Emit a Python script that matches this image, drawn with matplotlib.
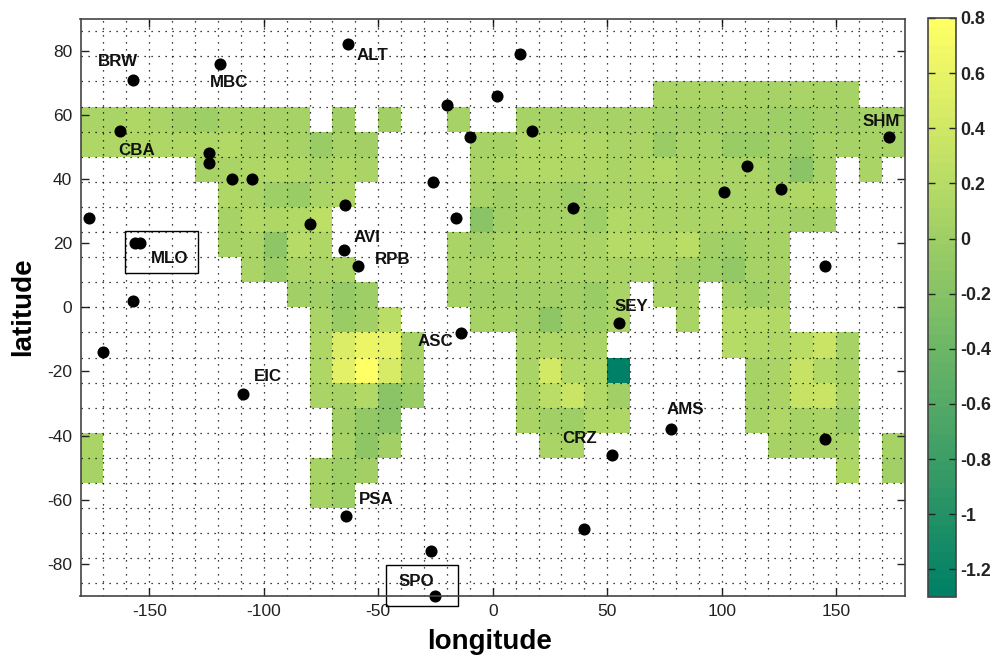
import numpy as np
import matplotlib
matplotlib.use("Agg")
import matplotlib.pyplot as plt
from matplotlib.patches import Rectangle

plt.rcParams['font.family'] = ['Liberation Sans', 'DejaVu Sans']
plt.rcParams['axes.unicode_minus'] = False

# each row: list of (western longitude of first cell, values of successive 10-degree cells)
row_p8 = [(70, [.09, .09, .09, .09, .07, .07, .09, .07, .07])]
row_p7 = [(-180, [.1, .1, .12, .1, .02, 0, .07, .07, .07, .07]), (-70, [.04]), (-50, [.02]), (-20, [.07]),
          (10, [.07, .07, .07, .07, .07, .07, .02, .02, .02, .02, .02, -.01, -.01, .02, .04, .07, .07])]
row_p6 = [(-180, [.12, .12, .12, .12, .12, .12, .17, .09, .09, .07, -.03, .05, .04]),
          (-10, [.07, .07, .17, .13, .17, .12, .1, .1, -.05, .05, .05, -.05, -.05, .02, -.03, .05, .07, .07, .07])]
row_p5 = [(-130, [.07, .09, .12, .15, .12, .07, .12, .1]),
          (-10, [.1, .12, .17, .17, .12, .12, .1, .12, .15, .1, .1, .1, .1, -.01, -.18, .05]), (160, [.1])]
row_p4 = [(-120, [.14, .1, -.01, -.05, .1, .12]),
          (-10, [.07, .04, .05, .07, -.01, .07, .1, .11, .09, .1, .1, .1, .1, .1, .12, .12])]
row_p3 = [(-120, [.07, .17, .12, .17, .27]),
          (-10, [-.18, .04, .07, .07, .05, -.01, .15, .12, .1, .1, .1, .1, .1, .07, .02, .02])]
row_p2 = [(-120, [.07, .1, -.13, .19, .12]),
          (-20, [.1, .04, .1, .1, .1, .1, .1, .19, .19, .17, .22, .02, 0, .07, .07])]
row_p1 = [(-110, [.1, -.05, .09, .09, .1]),
          (-20, [.1, .1, .1, .1, .1, .1, .1, .1, .1, .1, .02, 0, -.1, .07, .07])]
row_p0 = [(-90, [.02, .04, -.08, .01]), (-20, [.07, .02, .04, .02, .04, .02, -.03, .1]),
          (70, [.1, .1]), (100, [.05, 0, .06])]
row_m1 = [(-80, [.09, -.05, .04, .22]), (-10, [.07, .07, .04, -.13, .02, -.01, .1]), (80, [.09]),
          (100, [.19, .19, .17])]
row_m2 = [(-80, [.12, .5, .62, .58, .05]), (10, [.09, .12, .1, .09]), (100, [.19, .17, .12, .22, .35, .05])]
row_m3 = [(-80, [.12, .55, .8, .45, .1]), (10, [.1, .42, .17, .15, -1.3]), (110, [.07, .1, .34, .15, .07])]
row_m4 = [(-80, [.09, .05, .17, -.18, -.05]), (10, [.11, .22, .37, .17, .02]), (110, [.05, .1, .34, .36, .09])]
row_m5 = [(-70, [.04, -.1, -.16]), (10, [.1, .02, -.01, .12, .12]), (110, [.07, .12, .05, .1, 0])]
row_m6 = [(-180, [.09]), (-70, [.05, -.13, .04]), (20, [.1, .09]), (120, [.07, .07, .09, .1]), (170, [.05])]
row_m7 = [(-180, [.07]), (-80, [.07, 0, .04]), (150, [.12]), (170, [.02])]
row_m8 = [(-80, [.07, -.01])]
rows_south_to_north = [row_m8, row_m7, row_m6, row_m5, row_m4, row_m3, row_m2, row_m1, row_p0,
                       row_p1, row_p2, row_p3, row_p4, row_p5, row_p6, row_p7, row_p8]

station_lon = [-157, -119, -63, 12, -20, 2, -10, 17, -162.6, -124, -124, -114, -105, -26, -176.5, -64.7, -16, -80,
               35, -156, -154, -65, -59, -157, 145, -14, 55, -170, -109, 78, 145, 52, -64, 40, -27, -25, 173, 101,
               111, 126]
station_lat = [71, 76, 82, 79, 63, 66, 53, 55, 55, 48, 45, 40, 40, 39, 28, 32, 28, 26,
               31, 20, 20, 18, 13, 2, 13, -8, -5, -14, -27, -38, -41, -46, -65, -69, -76, -90, 53, 36,
               44, 37]

label_text = ['BRW', 'MBC', 'ALT', 'CBA', 'SHM', 'AVI', 'RPB', 'MLO', 'SEY', 'ASC', 'EIC', 'AMS', 'CRZ', 'PSA', 'SPO']
label_lon = [-163.5, -115, -52.5, -155.5, 169.5, -55, -43.5, -141, 60.5, -25, -98, 84, 38, -51, -33.5]
label_lat = [76.8, 70.2, 78.5, 49, 58, 21.8, 14.8, 15.2, 0.2, -10.5, -21.7, -31.7, -40.8, -60, -85.5]

xtick_values = [-150, -100, -50, 0, 50, 100, 150]
ytick_values = [-80, -60, -40, -20, 0, 20, 40, 60, 80]
cbar_ticks = [-1.2, -1, -.8, -.6, -.4, -.2, 0, .2, .4, .6, .8]
cbar_labels = ['-1.2', '-1', '-0.8', '-0.6', '-0.4', '-0.2', '0', '0.2', '0.4', '0.6', '0.8']

W, H = 997, 660
fig = plt.figure(figsize=(W / 100, H / 100), dpi=100)
ax = fig.add_axes([80.5 / W, 1 - 596 / H, (905 - 80.5) / W, (596 - 18.7) / H])

lon_edges = np.arange(-180, 181, 10)
dlat = 180 / 23
lat_edges = np.arange(-8, 10) * dlat
grid = np.full((len(rows_south_to_north), 36), np.nan)
for i, row in enumerate(rows_south_to_north):
    for start, vals in row:
        j = (start + 180) // 10
        grid[i, j:j + len(vals)] = vals

cmap = plt.get_cmap('summer', 64)
mesh = ax.pcolormesh(lon_edges, lat_edges, np.ma.masked_invalid(grid), cmap=cmap, vmin=-1.3, vmax=.8, zorder=1)

ax.set_xlim(-180, 180)
ax.set_ylim(-90, 90)
dot = dict(color='black', lw=.9, dashes=(1, 4.6), zorder=2)
for x in np.arange(-170, 180, 10):
    ax.axvline(x, **dot)
for k in range(-11, 12):
    ax.axhline(k * dlat, **dot)

ax.plot(station_lon, station_lat, 'o', color='black', ms=8.7, mew=0, zorder=4, clip_on=False)

for t, x, y in zip(label_text, label_lon, label_lat):
    ax.text(x, y, t, ha='center', va='center', fontsize=12.2, fontweight='bold', color='#111111', zorder=5)

ax.add_patch(Rectangle((-160.5, 10.8), 31.8, 13.1, fill=False, ec='black', lw=1, zorder=5, clip_on=False))
ax.add_patch(Rectangle((-46.5, -93.2), 31.5, 12.8, fill=False, ec='black', lw=1, zorder=5, clip_on=False))

ax.set_xticks(xtick_values)
ax.set_yticks(ytick_values)
ax.set_xticklabels([str(v) for v in xtick_values])
ax.set_yticklabels([str(v) for v in ytick_values])
ax.tick_params(direction='in', length=6, width=1, top=True, right=True, labelsize=12.5, colors='#222222', pad=6,
               zorder=6)
for s in ax.spines.values():
    s.set_linewidth(1.2)
    s.set_color('#444444')
    s.set_zorder(6)
ax.set_xlabel('longitude', fontsize=20, fontweight='bold')
ax.set_ylabel('latitude', fontsize=20, fontweight='bold')
ax.xaxis.set_label_coords((489.5 - 80.5) / (905 - 80.5), -(629 - 596) / (596 - 18.7))
ax.yaxis.set_label_coords(-(80.5 - 36) / (905 - 80.5), (596 - 307) / (596 - 18.7))

cax = fig.add_axes([928.3 / W, 1 - 597 / H, (955.7 - 928.3) / W, (597 - 18) / H])
cb = fig.colorbar(mesh, cax=cax)
cb.set_ticks(cbar_ticks)
cb.set_ticklabels(cbar_labels)
cax.tick_params(direction='in', length=5, width=1, left=True, right=True, pad=3, labelsize=12.8, colors='#222222')
for lab in cax.get_yticklabels():
    lab.set_fontweight('bold')
cb.outline.set_linewidth(1.2)
cb.outline.set_edgecolor('#444444')

fig.savefig('out.png', dpi=100)
